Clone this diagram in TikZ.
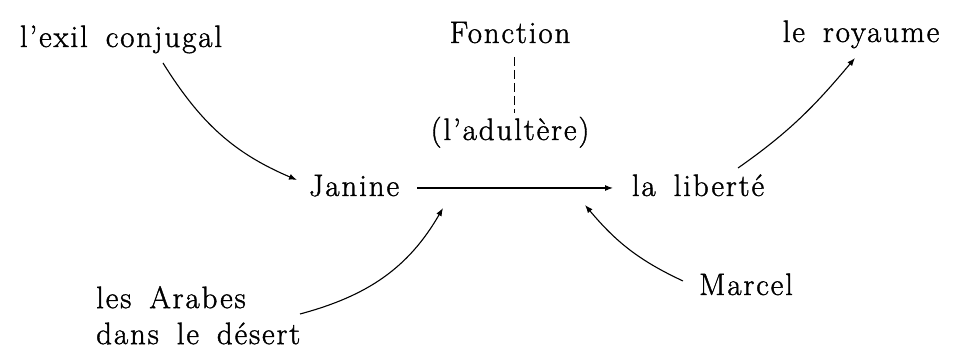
\documentclass[tikz,border=0pt]{standalone}
\usepackage{fontspec}
\setmainfont{Latin Modern Roman}[LetterSpace=6,WordSpace=1.6,FakeBold=1.2]
\usetikzlibrary{arrows.meta}
\begin{document}
\begin{tikzpicture}[x=1pt,y=1pt,
  lbl/.style={inner sep=0pt,anchor=base,font=\fontsize{31}{36}\selectfont},
  conn/.style={line width=1.1pt,-{Latex[length=8pt,width=6pt]}},
  dashconn/.style={line width=0.8pt,dash pattern=on 9pt off 4pt}]
\useasboundingbox (0,0) rectangle (957,352);
\node[lbl] (exil) at (121,305) {l'exil conjugal};
\node[lbl] (fonction) at (510,309) {Fonction};
\node[lbl] (adultere) at (510,212) {(l'adultère)};
\node[lbl] (royaume) at (861,310) {le royaume};
\node[lbl] (janine) at (354,156) {Janine};
\node[lbl] (liberte) at (698,156) {la liberté};
\node[lbl,anchor=north west,align=left] (arabes) at (96,66) {les Arabes\\dans le désert};
\node[lbl] (marcel) at (746,57) {Marcel};
\coordinate (tipA) at ([shift={(89,-12)}]janine.base);
\coordinate (tipM) at ([shift={(-113,-9)}]liberte.base);
\draw[dashconn] ([shift={(4,-14)}]fonction.base) -- ([shift={(4,27)}]adultere.base);
\draw[conn] ([shift={(42,-16)}]exil.base) to[out=-58,in=157] ([shift={(-57,16)}]janine.base);
\draw[conn] ([shift={(63,8)}]janine.base) -- ([shift={(-85,8)}]liberte.base);
\draw[conn] ([shift={(40,28)}]liberte.base) to[out=35,in=-130] ([shift={(-6,-16)}]royaume.base);
\draw[conn] ([shift={(204,-28)}]arabes.north west) to[out=15,in=-120] (tipA);
\draw[conn] ([shift={(-63,14)}]marcel.base) to[out=155,in=-50] (tipM);
\end{tikzpicture}
\end{document}
